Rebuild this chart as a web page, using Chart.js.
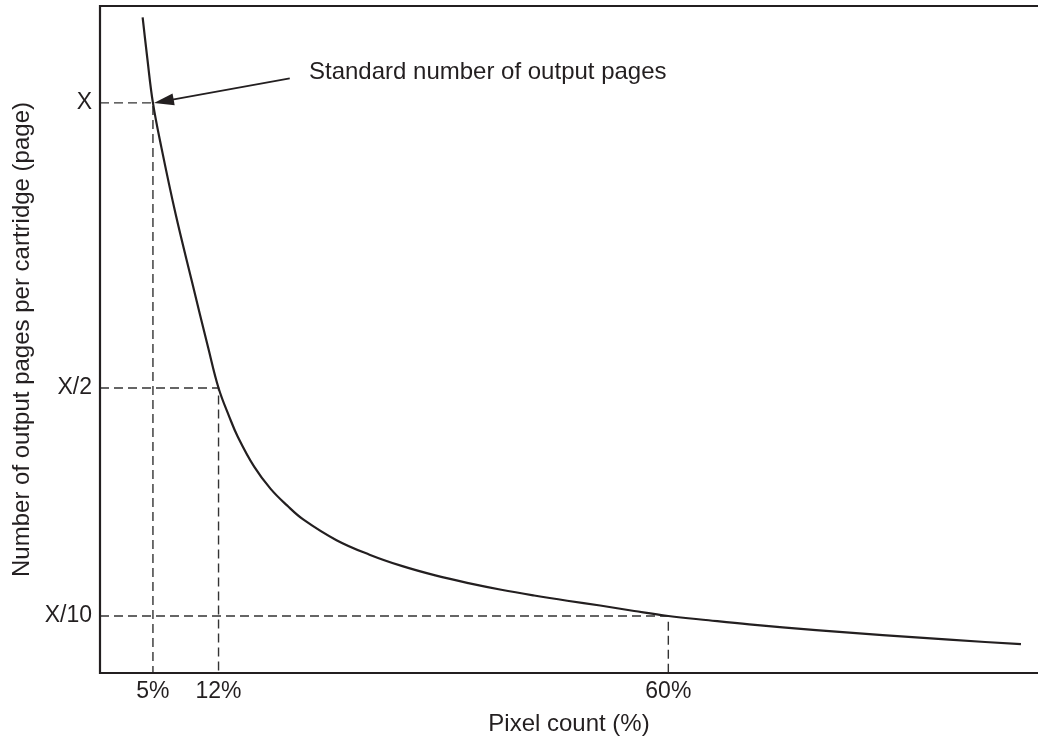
<!DOCTYPE html>
<html>
<head>
<meta charset="utf-8">
<script src="https://cdn.jsdelivr.net/npm/chart.js@4"></script>
<style>
body{margin:0;background:#fff;}
#wrap{width:1038px;height:740px;position:relative;}
</style>
</head>
<body>
<div id="wrap"><canvas id="pagesChart"></canvas></div>
<script>
// Data (y is a fraction of X)
const pixelCount=[3.9,4.4,5,5.9,7.42,9.14,10.89,12,13.16,14.04,15.8,17.56,19.31,21.07,24.59,28.11,31.62,35.13,38.66,42.17,45.68,49.21,52.72,56.36,60,64.3,68.64,75.76,82.87,89.98,97.63];
const pagesRatio=[1.15,1.078,1,0.922,0.805,0.688,0.571,0.5,0.449,0.415,0.362,0.323,0.294,0.269,0.233,0.2076,0.1874,0.1712,0.1577,0.1461,0.136,0.1268,0.1184,0.1088,0.1,0.0925,0.0854,0.0753,0.0665,0.0584,0.0505];

const markX=[5,12,60];
const markY=[1,0.5,0.1];
const xTickLabels=['5%','12%','60%'];
const yTickValues=[0.1,0.5,1];
const yTickLabels=['X/10','X/2','X'];

const xMin=-0.65, xMax=99.45;
const ink='#231f20';
const fontFamily="'Liberation Sans', Arial, sans-serif";

const curve=pixelCount.map((x,i)=>({x:x,y:pagesRatio[i]}));
const guides=markX.map((x,i)=>({
  data:[{x:xMin,y:markY[i]},{x:x,y:markY[i]},{x:x,y:0}],
  borderColor:'#333', borderWidth:1.4, borderDash:[9,5], pointRadius:0, fill:false, tension:0
}));

// frame (top, left, bottom) + arrow note
const framePlugin={
  id:'frame',
  afterDatasetsDraw(chart){
    const {ctx,chartArea:a,scales:{x,y}}=chart;
    ctx.save();
    ctx.strokeStyle=ink; ctx.lineWidth=2.2;
    ctx.beginPath();
    ctx.moveTo(a.right,a.top); ctx.lineTo(a.left,a.top); ctx.lineTo(a.left,a.bottom); ctx.lineTo(a.right,a.bottom);
    ctx.stroke();

    const tx=x.getPixelForValue(markX[0])+1, ty=y.getPixelForValue(markY[0]);
    const sx=x.getPixelForValue(19.6), sy=y.getPixelForValue(1.043);
    const ang=Math.atan2(ty-sy,tx-sx);
    const len=20, half=6;
    ctx.lineWidth=1.8;
    ctx.beginPath(); ctx.moveTo(sx,sy); ctx.lineTo(tx-Math.cos(ang)*len*0.8,ty-Math.sin(ang)*len*0.8); ctx.stroke();
    ctx.fillStyle=ink;
    ctx.beginPath();
    ctx.moveTo(tx,ty);
    ctx.lineTo(tx-Math.cos(ang)*len-Math.sin(ang)*half, ty-Math.sin(ang)*len+Math.cos(ang)*half);
    ctx.lineTo(tx-Math.cos(ang)*len+Math.sin(ang)*half, ty-Math.sin(ang)*len-Math.cos(ang)*half);
    ctx.closePath(); ctx.fill();

    ctx.font='24px '+fontFamily;
    ctx.textAlign='left'; ctx.textBaseline='middle';
    ctx.fillText('Standard number of output pages',x.getPixelForValue(21.65),y.getPixelForValue(1.053));
    ctx.restore();
  }
};

const chart=new Chart(document.getElementById('pagesChart'),{
  type:'line',
  data:{datasets:[
    {data:curve, borderColor:ink, borderWidth:2.2, pointRadius:0, fill:false, tension:0.4},
    ...guides
  ]},
  options:{
    responsive:true, maintainAspectRatio:false, animation:false,
    layout:{padding:{top:6,left:0,right:0,bottom:0}},
    plugins:{legend:{display:false},tooltip:{enabled:false}},
    scales:{
      x:{
        type:'linear', min:xMin, max:xMax,
        grid:{display:false, drawTicks:false}, border:{display:false},
        afterBuildTicks:s=>{ s.ticks=markX.map(v=>({value:v})); },
        afterFit:s=>{ s.height=67; s.paddingLeft=0; s.paddingRight=0; },
        ticks:{padding:5, color:ink, font:{family:fontFamily,size:23}, maxRotation:0, autoSkip:false,
          callback:(v)=>xTickLabels[markX.indexOf(v)]},
        title:{display:true, text:'Pixel count (%)', color:ink, font:{family:fontFamily,size:24}, padding:{top:0,bottom:1}}
      },
      y:{
        type:'linear', min:0, max:1.17,
        grid:{display:false, drawTicks:false}, border:{display:false},
        afterBuildTicks:s=>{ s.ticks=yTickValues.map(v=>({value:v})); },
        afterFit:s=>{ s.width=100; s.paddingTop=0; s.paddingBottom=0; },
        ticks:{padding:8, color:ink, font:{family:fontFamily,size:23}, autoSkip:false,
          callback:(v)=>yTickLabels[yTickValues.indexOf(v)]},
        title:{display:true, text:'Number of output pages per cartridge (page)', color:ink, font:{family:fontFamily,size:24}, padding:{top:8,bottom:0}}
      }
    }
  },
  plugins:[framePlugin]
});
</script>
</body>
</html>
